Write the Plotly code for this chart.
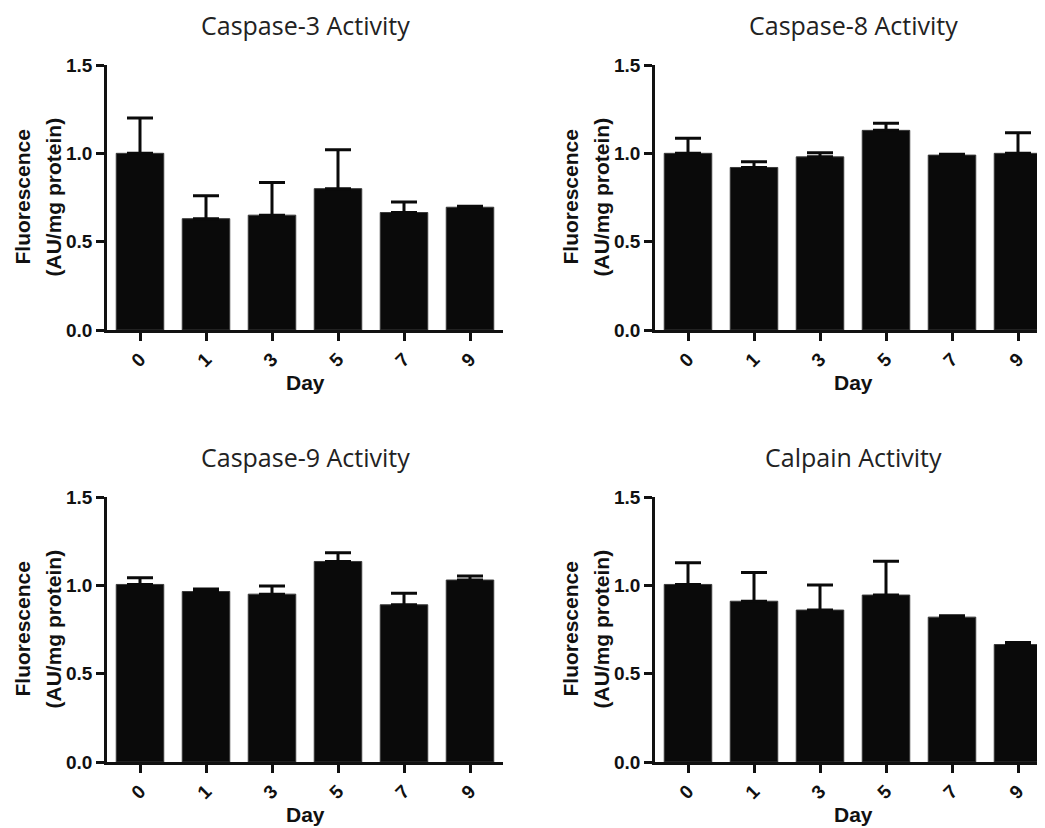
import plotly.graph_objects as go

days = ["0", "1", "3", "5", "7", "9"]

panel_titles = ["Caspase-3 Activity", "Caspase-8 Activity", "Caspase-9 Activity", "Calpain Activity"]

casp3_mean = [1.00, 0.63, 0.65, 0.80, 0.665, 0.695]
casp3_upper = [1.20, 0.76, 0.835, 1.02, 0.725, 0.70]

casp8_mean = [1.00, 0.92, 0.98, 1.13, 0.99, 1.00]
casp8_upper = [1.085, 0.953, 1.004, 1.17, 0.995, 1.117]

casp9_mean = [1.005, 0.965, 0.95, 1.135, 0.89, 1.03]
casp9_upper = [1.043, 0.979, 0.996, 1.185, 0.955, 1.053]

calpain_mean = [1.005, 0.91, 0.86, 0.945, 0.82, 0.665]
calpain_upper = [1.128, 1.072, 1.002, 1.137, 0.828, 0.676]

y_ticks = [0.0, 0.5, 1.0, 1.5]

W, H = 1045, 828
BAR = "#0a0a0a"
TICKFONT = dict(family="Liberation Sans, Arial, sans-serif", size=19, color="#111", weight="bold")
LABFONT = dict(family="Liberation Sans, Arial, sans-serif", size=21, color="#111", weight="bold")
TITLEFONT = dict(family="Open Sans, sans-serif", size=25, color="#222")

series = [(casp3_mean, casp3_upper), (casp8_mean, casp8_upper),
          (casp9_mean, casp9_upper), (calpain_mean, calpain_upper)]

# pixel geometry of each panel in figure pixels: (x_left, x_right, y_top, y_bottom)
# (the page adds an 8px body margin, so everything is placed 8px up/left)
panels = [(99, 495, 57, 322), (647, 1043, 57, 322),
          (99, 495, 489, 754), (647, 1043, 489, 754)]

fig = go.Figure()
layout = dict(template="none", width=W, height=H, margin=dict(l=0, r=0, t=0, b=0, pad=0),
              paper_bgcolor="white", plot_bgcolor="white", showlegend=False,
              annotations=[])

for i, ((mean, upper), (xl, xr, yt, yb)) in enumerate(zip(series, panels)):
    n = i + 1
    xa = "x" if n == 1 else f"x{n}"
    ya = "y" if n == 1 else f"y{n}"
    plus = [u - m for u, m in zip(upper, mean)]
    fig.add_trace(go.Bar(
        x=days, y=mean, xaxis=xa, yaxis=ya,
        marker=dict(color=BAR, line=dict(color="#3a3a3a", width=1)),
        width=0.72,
        error_y=dict(type="data", symmetric=False, array=plus,
                     arrayminus=[0] * len(mean), color="#0a0a0a",
                     thickness=3, width=13),
    ))
    layout[f"xaxis{'' if n == 1 else n}"] = dict(
        domain=[xl / W, xr / W], anchor=ya, type="category", automargin=False,
        range=[-0.5, 5.5], showline=True, linewidth=2.5, linecolor="#111",
        ticks="outside", ticklen=8, tickwidth=2.5, tickcolor="#111",
        tickangle=-45, tickfont=TICKFONT, showgrid=False, zeroline=False,
        fixedrange=True,
    )
    layout[f"yaxis{'' if n == 1 else n}"] = dict(
        domain=[1 - yb / H, 1 - yt / H], anchor=xa, range=[0, 1.5], automargin=False,
        tickvals=y_ticks, tickformat=".1f", showline=True, linewidth=2.5,
        linecolor="#111", ticks="outside", ticklen=8, tickwidth=2.5,
        tickcolor="#111", tickfont=TICKFONT, showgrid=False, zeroline=False,
        fixedrange=True,
    )
    cx = (xl + xr) / 2
    cy = (yt + yb) / 2
    layout["annotations"] += [
        dict(text=panel_titles[i], x=cx / W, y=1 - (yt - 40) / H, xref="paper", yref="paper",
             showarrow=False, font=TITLEFONT, xanchor="center", yanchor="middle"),
        dict(text="Day", x=cx / W, y=1 - (yb + 52) / H, xref="paper", yref="paper",
             showarrow=False, font=LABFONT, xanchor="center", yanchor="middle"),
        dict(text="Fluorescence", x=(xl - 85) / W, y=1 - cy / H, xref="paper", yref="paper",
             showarrow=False, font=LABFONT, textangle=-90, xanchor="center", yanchor="middle"),
        dict(text="(AU/mg protein)", x=(xl - 54) / W, y=1 - cy / H, xref="paper", yref="paper",
             showarrow=False, font=LABFONT, textangle=-90, xanchor="center", yanchor="middle"),
    ]

fig.update_layout(**layout)
fig.write_html("out.html")
